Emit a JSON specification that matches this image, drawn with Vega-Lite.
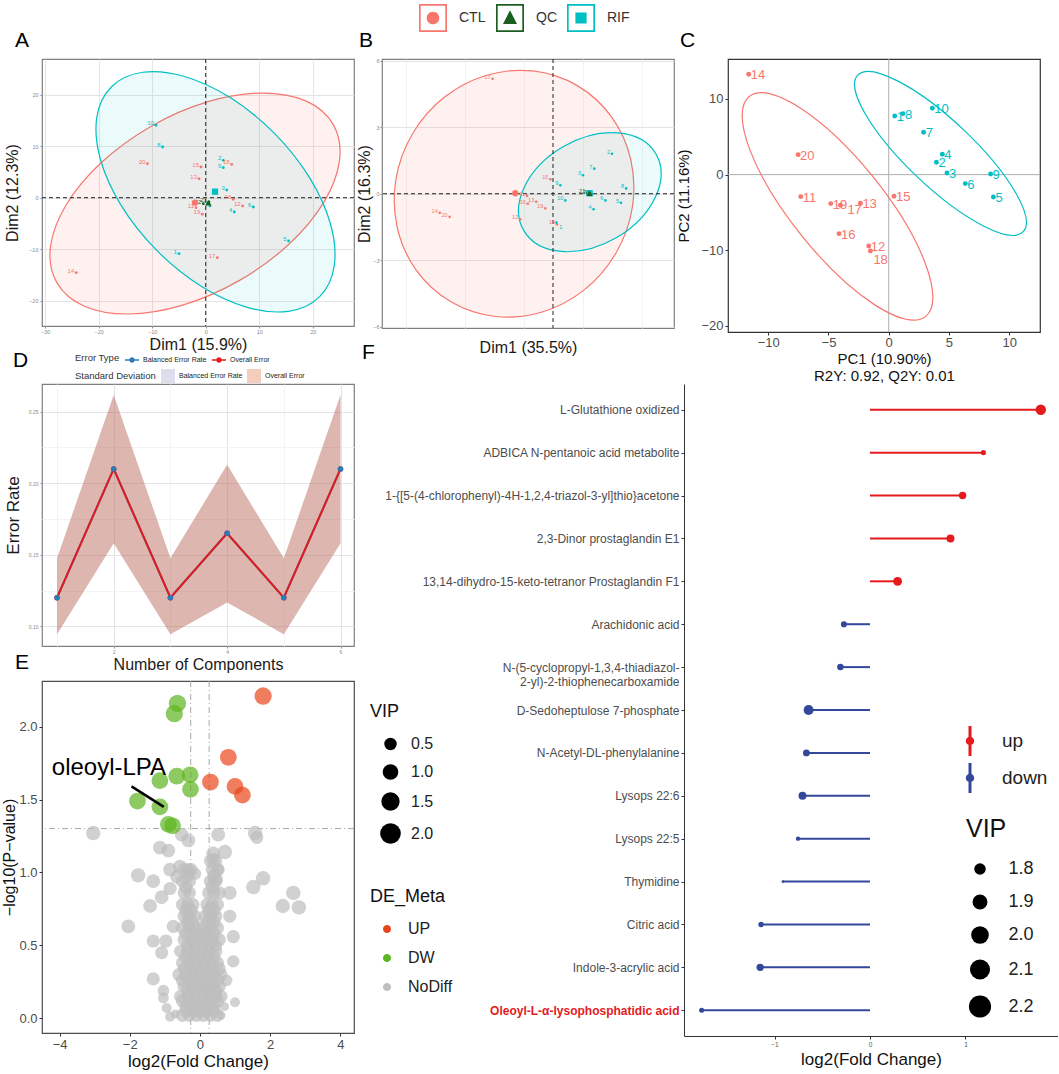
{
"$schema": "https://vega.github.io/schema/vega-lite/v6.json",
"background": "white",
"padding": {"left": 1, "top": 3, "right": 0, "bottom": 0},
"config": {
  "font": "Liberation Sans",
  "view": {"stroke": null},
  "axis": {"labelFont": "Liberation Sans", "titleFont": "Liberation Sans", "titleFontWeight": "normal", "grid": false},
  "legend": {"labelFont": "Liberation Sans", "titleFont": "Liberation Sans", "titleFontWeight": "normal", "padding": 0},
  "title": {"font": "Liberation Sans", "fontSize": 21, "fontWeight": "normal", "color": "#000", "anchor": "start", "frame": "group"},
  "text": {"font": "Liberation Sans"}
},
"spacing": -44,
"resolve": {"scale": {"color": "independent", "fill": "independent", "shape": "independent", "size": "independent"}, "legend": {"color": "independent", "fill": "independent", "shape": "independent", "size": "independent"}},
"vconcat": [
{
  "spacing": 0,
  "resolve": {"scale": {"color": "independent", "fill": "independent", "shape": "independent", "size": "independent"}, "legend": {"color": "independent", "fill": "independent", "shape": "independent", "size": "independent"}},
  "hconcat": [
  {
    "width": 312, "height": 267,
    "title": {"text": "A", "dx": -27, "offset": 8},
    "view": {"stroke": "#7f7f7f", "strokeWidth": 1.2},
    "layer": [
      {"data": {"values": [{"x": -2.0, "y": -1.13}]},
       "mark": {"type": "point", "shape": "M -1 0 C -1 -0.3082 -0.5523 -0.558 0 -0.558 C 0.5523 -0.558 1 -0.3082 1 0 C 1 0.3082 0.5523 0.558 0 0.558 C -0.5523 0.558 -1 0.3082 -1 0 Z", "size": 101400, "angle": -29.8, "filled": true, "fill": "#F8766D", "fillOpacity": 0.1, "stroke": "#F8766D", "strokeWidth": 1.2, "strokeOpacity": 1, "opacity": 1},
       "encoding": {
         "x": {"field": "x", "type": "quantitative", "scale": {"domain": [-30.6, 27.72], "nice": false, "zero": false},
               "axis": {"title": "Dim1 (15.9%)", "values": [-30,-25,-20,-15,-10,-5,0,5,10,15,20,25], "labelExpr": "datum.value % 10 !== 0 ? '' : datum.label", "grid": true, "gridColor": {"condition": {"test": "datum.value % 10 !== 0", "value": "#f3f3f3"}, "value": "#e4e4e4"}, "tickOpacity": {"condition": {"test": "datum.value % 10 !== 0", "value": 0}, "value": 1}, "tickColor": "#888", "tickSize": 2, "domain": false, "labelFontSize": 5.5, "labelColor": "#8a8a8a", "labelPadding": 1, "titleFontSize": 16, "titleColor": "#1a1a1a", "titlePadding": 2}},
         "y": {"field": "y", "type": "quantitative", "scale": {"domain": [-24.91, 26.93], "nice": false, "zero": false},
               "axis": {"title": "Dim2 (12.3%)", "values": [-25,-20,-15,-10,-5,0,5,10,15,20,25], "labelExpr": "datum.value % 10 !== 0 ? '' : datum.label", "grid": true, "gridColor": {"condition": {"test": "datum.value % 10 !== 0", "value": "#f3f3f3"}, "value": "#e4e4e4"}, "tickOpacity": {"condition": {"test": "datum.value % 10 !== 0", "value": 0}, "value": 1}, "tickColor": "#888", "tickSize": 2, "domain": false, "labelFontSize": 5.5, "labelColor": "#8a8a8a", "labelPadding": 2, "titleFontSize": 16, "titleColor": "#1a1a1a", "titlePadding": 8}}
       }},
      {"data": {"values": [{"x": 1.83, "y": 1.15}]},
       "mark": {"type": "point", "shape": "M -1 0 C -1 -0.3102 -0.5523 -0.5616 0 -0.5616 C 0.5523 -0.5616 1 -0.3102 1 0 C 1 0.3102 0.5523 0.5616 0 0.5616 C -0.5523 0.5616 -1 0.3102 -1 0 Z", "size": 87380, "angle": 45.3, "filled": true, "fill": "#00BFC4", "fillOpacity": 0.08, "stroke": "#00BFC4", "strokeWidth": 1.2, "strokeOpacity": 1, "opacity": 1},
       "encoding": {
         "x": {"field": "x", "type": "quantitative", "scale": {"domain": [-30.6, 27.72], "nice": false, "zero": false}},
         "y": {"field": "y", "type": "quantitative", "scale": {"domain": [-24.91, 26.93], "nice": false, "zero": false}}
       }},
      {"data": {"values": [{"x": 0}]},
       "mark": {"type": "rule", "strokeDash": [4, 3], "color": "#222", "strokeWidth": 1},
       "encoding": {"x": {"field": "x", "type": "quantitative", "scale": {"domain": [-30.6, 27.72], "nice": false, "zero": false}}}},
      {"data": {"values": [{"y": 0}]},
       "mark": {"type": "rule", "strokeDash": [4, 3], "color": "#222", "strokeWidth": 1},
       "encoding": {"y": {"field": "y", "type": "quantitative", "scale": {"domain": [-24.91, 26.93], "nice": false, "zero": false}}}},
      {"data": {"values": [
        {"g":"CTL","id":11,"x":-1.81,"y":-1.94},{"g":"CTL","id":12,"x":6.9,"y":-1.6},{"g":"CTL","id":13,"x":-1.25,"y":3.7},{"g":"CTL","id":14,"x":-24.2,"y":-14.56},{"g":"CTL","id":15,"x":-0.88,"y":5.96},{"g":"CTL","id":16,"x":5.16,"y":-0.3},{"g":"CTL","id":17,"x":2.17,"y":-11.65},{"g":"CTL","id":18,"x":4.86,"y":6.48},{"g":"CTL","id":19,"x":-0.64,"y":-3.2},{"g":"CTL","id":20,"x":-10.9,"y":6.6},
        {"g":"RIF","id":1,"x":-4.99,"y":-10.87},{"g":"RIF","id":2,"x":3.29,"y":7.26},{"g":"RIF","id":3,"x":3.93,"y":1.5},{"g":"RIF","id":4,"x":5.35,"y":-2.78},{"g":"RIF","id":5,"x":15.5,"y":-8.41},{"g":"RIF","id":6,"x":8.9,"y":-1.8},{"g":"RIF","id":7,"x":0.8,"y":-1.6},{"g":"RIF","id":8,"x":-8.04,"y":9.84},{"g":"RIF","id":9,"x":3.29,"y":5.83},{"g":"RIF","id":10,"x":-9.29,"y":14.06},
        {"g":"QC","id":21,"x":0.6,"y":-0.8},{"g":"QC","id":22,"x":-0.45,"y":-1.16}]},
       "layer": [
         {"mark": {"type": "point", "filled": true, "size": 8, "opacity": 1},
          "encoding": {
            "x": {"field": "x", "type": "quantitative", "scale": {"domain": [-30.6, 27.72], "nice": false, "zero": false}},
            "y": {"field": "y", "type": "quantitative", "scale": {"domain": [-24.91, 26.93], "nice": false, "zero": false}},
            "color": {"field": "g", "type": "nominal", "scale": {"domain": ["CTL","QC","RIF"], "range": ["#F8766D","#1B5E20","#00BFC4"]}, "legend": null}}},
         {"mark": {"type": "text", "fontSize": 6, "align": "right", "dx": -2, "dy": -2},
          "encoding": {
            "x": {"field": "x", "type": "quantitative", "scale": {"domain": [-30.6, 27.72], "nice": false, "zero": false}},
            "y": {"field": "y", "type": "quantitative", "scale": {"domain": [-24.91, 26.93], "nice": false, "zero": false}},
            "text": {"field": "id"},
            "color": {"field": "g", "type": "nominal", "scale": {"domain": ["CTL","QC","RIF"], "range": ["#F8766D","#1B5E20","#00BFC4"]}, "legend": null}}}
       ]},
      {"data": {"values": [{"g":"CTL","x":-2.0,"y":-0.97},{"g":"RIF","x":1.74,"y":1.17},{"g":"QC","x":0.49,"y":-0.97}]},
       "mark": {"type": "point", "filled": true, "size": 40, "opacity": 1},
       "encoding": {
         "x": {"field": "x", "type": "quantitative", "scale": {"domain": [-30.6, 27.72], "nice": false, "zero": false}},
         "y": {"field": "y", "type": "quantitative", "scale": {"domain": [-24.91, 26.93], "nice": false, "zero": false}},
         "color": {"field": "g", "type": "nominal", "scale": {"domain": ["CTL","QC","RIF"], "range": ["#F8766D","#1B5E20","#00BFC4"]}, "legend": null},
         "shape": {"field": "g", "type": "nominal", "scale": {"domain": ["CTL","QC","RIF"], "range": ["circle","triangle-up","square"]}, "legend": null}}}
    ]
  },
  {
    "width": 292, "height": 269,
    "title": {"text": "B", "dx": -23, "offset": -47},
    "view": {"stroke": "#7f7f7f", "strokeWidth": 1.2},
    "layer": [
      {"data": {"values": [{"g":"CTL","x":0,"y":0},{"g":"QC","x":0,"y":0},{"g":"RIF","x":0,"y":0}]},
       "mark": {"type": "point", "filled": true, "opacity": 0, "size": 10},
       "encoding": {
         "x": {"field": "x", "type": "quantitative", "scale": {"domain": [-7.246, 5.127], "nice": false, "zero": false},
               "axis": {"title": "Dim1 (35.5%)", "values": [-6.25,-5,-3.75,-2.5,-1.25,0,1.25,2.5,3.75,5], "format": ".1f", "labelExpr": "indexof([-6.25,-3.75,-1.25,1.25,3.75], datum.value) >= 0 ? '' : datum.label", "grid": true, "gridColor": {"condition": {"test": "indexof([-6.25,-3.75,-1.25,1.25,3.75], datum.value) >= 0", "value": "#f3f3f3"}, "value": "#e4e4e4"}, "tickOpacity": {"condition": {"test": "indexof([-6.25,-3.75,-1.25,1.25,3.75], datum.value) >= 0", "value": 0}, "value": 1}, "tickColor": "#888", "tickSize": 2, "domain": false, "labelFontSize": 5.5, "labelColor": "#8a8a8a", "labelPadding": 1, "titleFontSize": 16, "titleColor": "#1a1a1a", "titlePadding": 3}},
         "y": {"field": "y", "type": "quantitative", "scale": {"domain": [-6.05, 6.07], "nice": false, "zero": false},
               "axis": {"title": "Dim2 (16.3%)", "values": [-6,-4.5,-3,-1.5,0,1.5,3,4.5,6], "labelExpr": "indexof([-4.5,-1.5,1.5,4.5], datum.value) >= 0 ? '' : datum.label", "grid": true, "gridColor": {"condition": {"test": "indexof([-4.5,-1.5,1.5,4.5], datum.value) >= 0", "value": "#f3f3f3"}, "value": "#e4e4e4"}, "tickOpacity": {"condition": {"test": "indexof([-4.5,-1.5,1.5,4.5], datum.value) >= 0", "value": 0}, "value": 1}, "tickColor": "#888", "tickSize": 2, "domain": false, "labelFontSize": 5.5, "labelColor": "#8a8a8a", "labelPadding": 1, "titleFontSize": 16, "titleColor": "#1a1a1a", "titlePadding": 0}},
         "color": {"field": "g", "type": "nominal", "scale": {"domain": ["CTL","QC","RIF"], "range": ["#F8766D","#1B5E20","#00BFC4"]},
                   "legend": {"title": null, "orient": "none", "legendX": 37, "legendY": -55, "direction": "horizontal", "symbolSize": 784, "symbolOpacity": 1, "symbolStrokeWidth": 0, "labelFontSize": 14, "labelColor": "#333", "labelOffset": 12, "columnPadding": 10}},
         "shape": {"field": "g", "type": "nominal", "scale": {"domain": ["CTL","QC","RIF"], "range": [
             "M -1 -1 L 1 -1 L 1 1 L -1 1 Z M -0.88 -0.88 L -0.88 0.88 L 0.88 0.88 L 0.88 -0.88 Z M 0.45 0 C 0.45 0.2485 0.2485 0.45 0 0.45 C -0.2485 0.45 -0.45 0.2485 -0.45 0 C -0.45 -0.2485 -0.2485 -0.45 0 -0.45 C 0.2485 -0.45 0.45 -0.2485 0.45 0 Z",
             "M -1 -1 L 1 -1 L 1 1 L -1 1 Z M -0.88 -0.88 L -0.88 0.88 L 0.88 0.88 L 0.88 -0.88 Z M 0 -0.55 L 0.5 0.42 L -0.5 0.42 Z",
             "M -1 -1 L 1 -1 L 1 1 L -1 1 Z M -0.88 -0.88 L -0.88 0.88 L 0.88 0.88 L 0.88 -0.88 Z M -0.4 -0.4 L 0.4 -0.4 L 0.4 0.4 L -0.4 0.4 Z"]},
                   "legend": {"title": null, "orient": "none", "legendX": 37, "legendY": -55, "direction": "horizontal", "symbolSize": 784, "symbolOpacity": 1, "symbolStrokeWidth": 0, "labelFontSize": 14, "labelColor": "#333", "labelOffset": 12, "columnPadding": 10}}
       }},
      {"data": {"values": [{"x": -1.65, "y": 0.0}]},
       "mark": {"type": "point", "shape": "M -1 0 C -1 -0.5203 -0.5523 -0.942 0 -0.942 C 0.5523 -0.942 1 -0.5203 1 0 C 1 0.5203 0.5523 0.942 0 0.942 C -0.5523 0.942 -1 0.5203 -1 0 Z", "size": 62700, "angle": -59.7, "filled": true, "fill": "#F8766D", "fillOpacity": 0.1, "stroke": "#F8766D", "strokeWidth": 1.2, "strokeOpacity": 1, "opacity": 1},
       "encoding": {
         "x": {"field": "x", "type": "quantitative", "scale": {"domain": [-7.246, 5.127], "nice": false, "zero": false}},
         "y": {"field": "y", "type": "quantitative", "scale": {"domain": [-6.05, 6.07], "nice": false, "zero": false}}}},
      {"data": {"values": [{"x": 1.56, "y": 0.07}]},
       "mark": {"type": "point", "shape": "M -1 0 C -1 -0.3811 -0.5523 -0.69 0 -0.69 C 0.5523 -0.69 1 -0.3811 1 0 C 1 0.3811 0.5523 0.69 0 0.69 C -0.5523 0.69 -1 0.3811 -1 0 Z", "size": 23348, "angle": -30, "filled": true, "fill": "#00BFC4", "fillOpacity": 0.08, "stroke": "#00BFC4", "strokeWidth": 1.2, "strokeOpacity": 1, "opacity": 1},
       "encoding": {
         "x": {"field": "x", "type": "quantitative", "scale": {"domain": [-7.246, 5.127], "nice": false, "zero": false}},
         "y": {"field": "y", "type": "quantitative", "scale": {"domain": [-6.05, 6.07], "nice": false, "zero": false}}}},
      {"data": {"values": [{"x": 0}]},
       "mark": {"type": "rule", "strokeDash": [4, 3], "color": "#222", "strokeWidth": 1},
       "encoding": {"x": {"field": "x", "type": "quantitative", "scale": {"domain": [-7.246, 5.127], "nice": false, "zero": false}}}},
      {"data": {"values": [{"y": 0}]},
       "mark": {"type": "rule", "strokeDash": [4, 3], "color": "#222", "strokeWidth": 1},
       "encoding": {"y": {"field": "y", "type": "quantitative", "scale": {"domain": [-6.05, 6.07], "nice": false, "zero": false}}}},
      {"data": {"values": [
        {"g":"CTL","id":17,"x":-2.56,"y":5.18},{"g":"CTL","id":14,"x":-4.8,"y":-0.86},{"g":"CTL","id":20,"x":-4.38,"y":-1.04},{"g":"CTL","id":15,"x":-0.11,"y":0.65},{"g":"CTL","id":13,"x":-0.71,"y":-0.36},{"g":"CTL","id":19,"x":-0.33,"y":-0.66},{"g":"CTL","id":18,"x":0.17,"y":-1.38},{"g":"CTL","id":11,"x":-1.1,"y":-0.1},{"g":"CTL","id":12,"x":-1.39,"y":-1.15},{"g":"CTL","id":16,"x":-1.07,"y":-0.45},
        {"g":"RIF","id":1,"x":0.14,"y":-1.3},{"g":"RIF","id":2,"x":2.5,"y":1.8},{"g":"RIF","id":3,"x":1.27,"y":0.83},{"g":"RIF","id":4,"x":1.72,"y":-0.7},{"g":"RIF","id":5,"x":2.88,"y":-0.41},{"g":"RIF","id":6,"x":2.22,"y":-0.3},{"g":"RIF","id":7,"x":1.75,"y":1.13},{"g":"RIF","id":8,"x":3.1,"y":0.24},{"g":"RIF","id":9,"x":0.31,"y":0.38},{"g":"RIF","id":10,"x":0.52,"y":-0.3},
        {"g":"QC","id":21,"x":1.45,"y":0.05},{"g":"QC","id":22,"x":1.62,"y":-0.02}]},
       "layer": [
         {"mark": {"type": "point", "filled": true, "size": 7, "opacity": 1},
          "encoding": {
            "x": {"field": "x", "type": "quantitative", "scale": {"domain": [-7.246, 5.127], "nice": false, "zero": false}},
            "y": {"field": "y", "type": "quantitative", "scale": {"domain": [-6.05, 6.07], "nice": false, "zero": false}},
            "color": {"field": "g", "type": "nominal", "scale": {"domain": ["CTL","QC","RIF"], "range": ["#F8766D","#1B5E20","#00BFC4"]}, "legend": null}}},
         {"transform": [{"filter": "!(datum.g == 'RIF' && datum.id == 1)"}],
          "mark": {"type": "text", "fontSize": 5.5, "align": "right", "dx": -2, "dy": -2},
          "encoding": {
            "x": {"field": "x", "type": "quantitative", "scale": {"domain": [-7.246, 5.127], "nice": false, "zero": false}},
            "y": {"field": "y", "type": "quantitative", "scale": {"domain": [-6.05, 6.07], "nice": false, "zero": false}},
            "text": {"field": "id"},
            "color": {"field": "g", "type": "nominal", "scale": {"domain": ["CTL","QC","RIF"], "range": ["#F8766D","#1B5E20","#00BFC4"]}, "legend": null}}},
         {"transform": [{"filter": "datum.g == 'RIF' && datum.id == 1"}],
          "mark": {"type": "text", "fontSize": 5.5, "align": "left", "dx": 3, "dy": 4},
          "encoding": {
            "x": {"field": "x", "type": "quantitative", "scale": {"domain": [-7.246, 5.127], "nice": false, "zero": false}},
            "y": {"field": "y", "type": "quantitative", "scale": {"domain": [-6.05, 6.07], "nice": false, "zero": false}},
            "text": {"field": "id"},
            "color": {"field": "g", "type": "nominal", "scale": {"domain": ["CTL","QC","RIF"], "range": ["#F8766D","#1B5E20","#00BFC4"]}, "legend": null}}}
       ]},
      {"data": {"values": [{"g":"CTL","x":-1.6,"y":0.02}]},
       "mark": {"type": "point", "filled": true, "size": 40, "opacity": 1, "shape": "circle", "color": "#F8766D"},
       "encoding": {
         "x": {"field": "x", "type": "quantitative", "scale": {"domain": [-7.246, 5.127], "nice": false, "zero": false}},
         "y": {"field": "y", "type": "quantitative", "scale": {"domain": [-6.05, 6.07], "nice": false, "zero": false}}}},
      {"data": {"values": [{"g":"RIF","x":1.55,"y":0.02}]},
       "mark": {"type": "point", "filled": true, "size": 40, "opacity": 1, "shape": "square", "color": "#00BFC4"},
       "encoding": {
         "x": {"field": "x", "type": "quantitative", "scale": {"domain": [-7.246, 5.127], "nice": false, "zero": false}},
         "y": {"field": "y", "type": "quantitative", "scale": {"domain": [-6.05, 6.07], "nice": false, "zero": false}}}},
      {"data": {"values": [{"g":"QC","x":1.55,"y":0.02}]},
       "mark": {"type": "point", "filled": true, "size": 40, "opacity": 1, "shape": "triangle-up", "color": "#1B5E20"},
       "encoding": {
         "x": {"field": "x", "type": "quantitative", "scale": {"domain": [-7.246, 5.127], "nice": false, "zero": false}},
         "y": {"field": "y", "type": "quantitative", "scale": {"domain": [-6.05, 6.07], "nice": false, "zero": false}}}}
    ]
  },
  {
    "width": 312, "height": 273,
    "title": {"text": "C", "dx": -48, "offset": 8},
    "view": {"stroke": "#333", "strokeWidth": 1.2},
    "layer": [
      {"data": {"values": [{"x": 0}]},
       "mark": {"type": "rule", "color": "#b0b0b0", "strokeWidth": 1},
       "encoding": {"x": {"field": "x", "type": "quantitative", "scale": {"domain": [-13.34, 12.56], "nice": false, "zero": false},
          "axis": {"title": ["PC1 (10.90%)", "R2Y: 0.92, Q2Y: 0.01"], "values": [-10,-5,0,5,10], "labelFontSize": 13, "labelColor": "#4d4d4d", "tickColor": "#333", "tickSize": 3, "domain": false, "titleFontSize": 15, "titleColor": "#111", "titlePadding": 2, "labelPadding": 1}}}},
      {"data": {"values": [{"y": 0}]},
       "mark": {"type": "rule", "color": "#b0b0b0", "strokeWidth": 1},
       "encoding": {"y": {"field": "y", "type": "quantitative", "scale": {"domain": [-20.8, 15.28], "nice": false, "zero": false},
          "axis": {"title": "PC2 (11.16%)", "values": [-20,-10,0,10], "labelFontSize": 13, "labelColor": "#4d4d4d", "tickColor": "#333", "tickSize": 3, "domain": false, "titleFontSize": 15, "titleColor": "#111", "titlePadding": 9, "labelPadding": 2}}}},
      {"data": {"values": [{"x": -4.25, "y": -4.2}]},
       "mark": {"type": "point", "shape": "M -1 0 C -1 -0.1812 -0.5523 -0.328 0 -0.328 C 0.5523 -0.328 1 -0.1812 1 0 C 1 0.1812 0.5523 0.328 0 0.328 C -0.5523 0.328 -1 0.1812 -1 0 Z", "size": 79524, "angle": 51.25, "filled": false, "color": "#F8766D", "strokeWidth": 1.2, "opacity": 1},
       "encoding": {
         "x": {"field": "x", "type": "quantitative", "scale": {"domain": [-13.34, 12.56], "nice": false, "zero": false}},
         "y": {"field": "y", "type": "quantitative", "scale": {"domain": [-20.8, 15.28], "nice": false, "zero": false}}}},
      {"data": {"values": [{"x": 4.30, "y": 2.80}]},
       "mark": {"type": "point", "shape": "M -1 0 C -1 -0.1602 -0.5523 -0.29 0 -0.29 C 0.5523 -0.29 1 -0.1602 1 0 C 1 0.1602 0.5523 0.29 0 0.29 C -0.5523 0.29 -1 0.1602 -1 0 Z", "size": 51893, "angle": 43.4, "filled": false, "color": "#00BFC4", "strokeWidth": 1.2, "opacity": 1},
       "encoding": {
         "x": {"field": "x", "type": "quantitative", "scale": {"domain": [-13.34, 12.56], "nice": false, "zero": false}},
         "y": {"field": "y", "type": "quantitative", "scale": {"domain": [-20.8, 15.28], "nice": false, "zero": false}}}},
      {"data": {"values": [
        {"g":"CTL","id":14,"x":-11.62,"y":13.26},{"g":"CTL","id":20,"x":-7.52,"y":2.64},{"g":"CTL","id":11,"x":-7.30,"y":-2.91},{"g":"CTL","id":19,"x":-4.81,"y":-3.83},{"g":"CTL","id":17,"x":-4.01,"y":-4.05},{"g":"CTL","id":13,"x":-2.35,"y":-3.79},{"g":"CTL","id":15,"x":0.44,"y":-2.86},{"g":"CTL","id":16,"x":-4.12,"y":-7.80},{"g":"CTL","id":12,"x":-1.66,"y":-9.43},{"g":"CTL","id":18,"x":-1.52,"y":-10.09},
        {"g":"RIF","id":1,"x":0.5,"y":7.75},{"g":"RIF","id":8,"x":1.19,"y":8.06},{"g":"RIF","id":10,"x":3.62,"y":8.77},{"g":"RIF","id":7,"x":2.90,"y":5.59},{"g":"RIF","id":4,"x":4.45,"y":2.69},{"g":"RIF","id":2,"x":3.96,"y":1.63},{"g":"RIF","id":3,"x":4.84,"y":0.22},{"g":"RIF","id":6,"x":6.36,"y":-1.19},{"g":"RIF","id":9,"x":8.46,"y":0.09},{"g":"RIF","id":5,"x":8.69,"y":-2.95}]},
       "layer": [
         {"mark": {"type": "point", "filled": true, "size": 24, "opacity": 1},
          "encoding": {
            "x": {"field": "x", "type": "quantitative", "scale": {"domain": [-13.34, 12.56], "nice": false, "zero": false}},
            "y": {"field": "y", "type": "quantitative", "scale": {"domain": [-20.8, 15.28], "nice": false, "zero": false}},
            "color": {"field": "g", "type": "nominal", "scale": {"domain": ["CTL","RIF"], "range": ["#F8766D","#00BFC4"]}, "legend": null}}},
         {"transform": [{"filter": "!(datum.g == 'CTL' && (datum.id == 17 || datum.id == 18))"}],
          "mark": {"type": "text", "fontSize": 13, "align": "left", "baseline": "middle", "dx": 2, "dy": 1},
          "encoding": {
            "x": {"field": "x", "type": "quantitative", "scale": {"domain": [-13.34, 12.56], "nice": false, "zero": false}},
            "y": {"field": "y", "type": "quantitative", "scale": {"domain": [-20.8, 15.28], "nice": false, "zero": false}},
            "text": {"field": "id"},
            "color": {"field": "g", "type": "nominal", "scale": {"domain": ["CTL","RIF"], "range": ["#F8766D","#00BFC4"]}, "legend": null}}},
         {"transform": [{"filter": "datum.g == 'CTL' && datum.id == 17"}],
          "mark": {"type": "text", "fontSize": 13, "align": "left", "baseline": "middle", "dx": 7, "dy": 5},
          "encoding": {
            "x": {"field": "x", "type": "quantitative", "scale": {"domain": [-13.34, 12.56], "nice": false, "zero": false}},
            "y": {"field": "y", "type": "quantitative", "scale": {"domain": [-20.8, 15.28], "nice": false, "zero": false}},
            "text": {"field": "id"},
            "color": {"field": "g", "type": "nominal", "scale": {"domain": ["CTL","RIF"], "range": ["#F8766D","#00BFC4"]}, "legend": null}}},
         {"transform": [{"filter": "datum.g == 'CTL' && datum.id == 18"}],
          "mark": {"type": "text", "fontSize": 13, "align": "left", "baseline": "middle", "dx": 3, "dy": 9},
          "encoding": {
            "x": {"field": "x", "type": "quantitative", "scale": {"domain": [-13.34, 12.56], "nice": false, "zero": false}},
            "y": {"field": "y", "type": "quantitative", "scale": {"domain": [-20.8, 15.28], "nice": false, "zero": false}},
            "text": {"field": "id"},
            "color": {"field": "g", "type": "nominal", "scale": {"domain": ["CTL","RIF"], "range": ["#F8766D","#00BFC4"]}, "legend": null}}}
       ]}
    ]
  }
  ]
},
{
  "spacing": -92,
  "resolve": {"scale": {"color": "independent", "fill": "independent", "shape": "independent", "size": "independent"}, "legend": {"color": "independent", "fill": "independent", "shape": "independent", "size": "independent"}},
  "hconcat": [
  {
    "spacing": -23,
    "resolve": {"scale": {"color": "independent", "fill": "independent", "shape": "independent", "size": "independent"}, "legend": {"color": "independent", "fill": "independent", "shape": "independent", "size": "independent"}},
    "vconcat": [
    {
      "width": 312, "height": 262,
      "title": {"text": "D", "dx": -29, "offset": -18},
      "view": {"stroke": "#7f7f7f", "strokeWidth": 1.2},
      "data": {"values": [
        {"type":"Balanced Error Rate","comp":1,"err":0.12,"lo":0.0945,"hi":0.1475},
        {"type":"Balanced Error Rate","comp":2,"err":0.21,"lo":0.158,"hi":0.2617},
        {"type":"Balanced Error Rate","comp":3,"err":0.12,"lo":0.0945,"hi":0.1475},
        {"type":"Balanced Error Rate","comp":4,"err":0.165,"lo":0.1167,"hi":0.213},
        {"type":"Balanced Error Rate","comp":5,"err":0.12,"lo":0.0945,"hi":0.1475},
        {"type":"Balanced Error Rate","comp":6,"err":0.21,"lo":0.158,"hi":0.2617},
        {"type":"Overall Error","comp":1,"err":0.12,"lo":0.0945,"hi":0.1475},
        {"type":"Overall Error","comp":2,"err":0.21,"lo":0.158,"hi":0.2617},
        {"type":"Overall Error","comp":3,"err":0.12,"lo":0.0945,"hi":0.1475},
        {"type":"Overall Error","comp":4,"err":0.165,"lo":0.1167,"hi":0.213},
        {"type":"Overall Error","comp":5,"err":0.12,"lo":0.0945,"hi":0.1475},
        {"type":"Overall Error","comp":6,"err":0.21,"lo":0.158,"hi":0.2617}]},
      "layer": [
        {"mark": {"type": "point", "filled": true, "size": 30, "opacity": 0},
         "encoding": {
           "x": {"field": "comp", "type": "quantitative", "scale": {"domain": [0.735, 6.238], "nice": false, "zero": false}},
           "y": {"field": "err", "type": "quantitative", "scale": {"domain": [0.0862, 0.2694], "nice": false, "zero": false}},
           "color": {"field": "type", "type": "nominal", "scale": {"domain": ["Balanced Error Rate", "Overall Error"], "range": ["#2B7BBA", "#E3191C"]},
                     "legend": {"title": "Error Type", "orient": "none", "legendX": 33, "legendY": -31, "direction": "horizontal", "titleOrient": "left", "titleFontSize": 9.5, "titleColor": "#333", "titlePadding": 5, "labelFontSize": 7, "labelColor": "#222", "symbolType": "M -1 -0.1 L 1 -0.1 L 1 0.1 L -1 0.1 Z M 0.38 0 C 0.38 0.21 0.21 0.38 0 0.38 C -0.21 0.38 -0.38 0.21 -0.38 0 C -0.38 -0.21 -0.21 -0.38 0 -0.38 C 0.21 -0.38 0.38 -0.21 0.38 0 Z", "symbolSize": 196, "symbolOpacity": 1, "symbolStrokeWidth": 0, "labelOffset": 4, "columnPadding": 5}}}},
        {"mark": {"type": "area", "opacity": 0.3},
         "encoding": {
           "x": {"field": "comp", "type": "quantitative", "scale": {"domain": [0.735, 6.238], "nice": false, "zero": false},
                 "axis": {"title": "Number of Components", "values": [1,2,3,4,5,6], "format": "d", "labelExpr": "datum.value % 2 === 0 ? datum.label : ''", "grid": true, "gridColor": {"condition": {"test": "datum.value % 2 !== 0", "value": "#f3f3f3"}, "value": "#e4e4e4"}, "tickOpacity": {"condition": {"test": "datum.value % 2 !== 0", "value": 0}, "value": 1}, "tickColor": "#888", "tickSize": 2, "domain": false, "labelFontSize": 5, "labelColor": "#8a8a8a", "labelPadding": 1, "titleFontSize": 16, "titleColor": "#1a1a1a", "titlePadding": 2}},
           "y": {"field": "lo", "type": "quantitative", "scale": {"domain": [0.0862, 0.2694], "nice": false, "zero": false},
                 "axis": {"title": "Error Rate", "values": [0.1,0.125,0.15,0.175,0.2,0.225,0.25], "format": ".2f", "labelExpr": "indexof([0.125,0.175,0.225], datum.value) >= 0 ? '' : datum.label", "grid": true, "gridColor": {"condition": {"test": "indexof([0.125,0.175,0.225], datum.value) >= 0", "value": "#f3f3f3"}, "value": "#e4e4e4"}, "tickOpacity": {"condition": {"test": "indexof([0.125,0.175,0.225], datum.value) >= 0", "value": 0}, "value": 1}, "tickColor": "#888", "tickSize": 2, "domain": false, "labelFontSize": 5, "labelColor": "#8a8a8a", "labelPadding": 2, "titleFontSize": 17, "titleColor": "#1a1a1a", "titlePadding": 6}},
           "y2": {"field": "hi"},
           "fill": {"field": "type", "type": "nominal", "scale": {"domain": ["Overall Error", "Balanced Error Rate"], "range": ["#DE5826", "#8A91BC"]},
                    "legend": {"title": "Standard Deviation", "values": ["Balanced Error Rate", "Overall Error"], "orient": "none", "legendX": 33, "legendY": -15, "direction": "horizontal", "titleOrient": "left", "titleFontSize": 9.5, "titleColor": "#333", "titlePadding": 5, "labelFontSize": 7, "labelColor": "#222", "symbolType": "square", "symbolSize": 196, "symbolStrokeWidth": 0, "labelOffset": 4, "columnPadding": 4}}}},
        {"mark": {"type": "line", "strokeWidth": 2},
         "encoding": {
           "x": {"field": "comp", "type": "quantitative", "scale": {"domain": [0.735, 6.238], "nice": false, "zero": false}},
           "y": {"field": "err", "type": "quantitative", "scale": {"domain": [0.0862, 0.2694], "nice": false, "zero": false}},
           "color": {"field": "type", "type": "nominal", "scale": {"domain": ["Balanced Error Rate", "Overall Error"], "range": ["#2B7BBA", "#E3191C"]}, "legend": null}}},
        {"mark": {"type": "point", "filled": true, "size": 30, "opacity": 1},
         "encoding": {
           "x": {"field": "comp", "type": "quantitative", "scale": {"domain": [0.735, 6.238], "nice": false, "zero": false}},
           "y": {"field": "err", "type": "quantitative", "scale": {"domain": [0.0862, 0.2694], "nice": false, "zero": false}},
           "order": {"field": "type", "sort": "descending"},
           "color": {"field": "type", "type": "nominal", "scale": {"domain": ["Balanced Error Rate", "Overall Error"], "range": ["#2B7BBA", "#E3191C"]}, "legend": null}}}
      ]
    },
    {
      "width": 312, "height": 352,
      "title": {"text": "E", "dx": -27, "offset": 8},
      "view": {"stroke": "#4d4d4d", "strokeWidth": 1.2},
      "layer": [
        {"data": {"values": [{"v": -0.263}, {"v": 0.263}]},
         "mark": {"type": "rule", "strokeDash": [6, 3, 1, 3], "color": "#a8a8a8", "strokeWidth": 1},
         "encoding": {"x": {"field": "v", "type": "quantitative", "scale": {"domain": [-4.5, 4.39], "nice": false, "zero": false},
            "axis": {"title": "log2(Fold Change)", "values": [-4,-2,0,2,4], "labelFontSize": 13, "labelColor": "#4d4d4d", "tickColor": "#333", "tickSize": 3, "domain": false, "titleFontSize": 17, "titleColor": "#111", "titlePadding": 2, "labelPadding": 2}}}},
        {"data": {"values": [{"v": 1.301}]},
         "mark": {"type": "rule", "strokeDash": [6, 3, 1, 3], "color": "#a8a8a8", "strokeWidth": 1},
         "encoding": {"y": {"field": "v", "type": "quantitative", "scale": {"domain": [-0.101, 2.313], "nice": false, "zero": false},
            "axis": {"title": "−log10(P−value)", "values": [0,0.5,1,1.5,2], "format": ".1f", "labelFontSize": 13, "labelColor": "#4d4d4d", "tickColor": "#333", "tickSize": 3, "domain": false, "titleFontSize": 16, "titleColor": "#111", "titlePadding": 1, "labelPadding": 2}}}},
        {"data": {"values": [
          {"x":-3.04,"y":1.27,"v":0.8,"g":"NoDiff"},{"x":-0.52,"y":1.26,"v":0.7,"g":"NoDiff"},{"x":-0.33,"y":1.22,"v":0.7,"g":"NoDiff"},{"x":0.52,"y":1.26,"v":0.7,"g":"NoDiff"},{"x":1.57,"y":1.27,"v":0.8,"g":"NoDiff"},{"x":1.62,"y":1.24,"v":0.6,"g":"NoDiff"},
          {"x":-1.14,"y":1.17,"v":0.7,"g":"NoDiff"},{"x":-0.9,"y":1.15,"v":0.7,"g":"NoDiff"},{"x":0.38,"y":1.13,"v":0.7,"g":"NoDiff"},{"x":0.71,"y":1.14,"v":0.8,"g":"NoDiff"},{"x":-1.76,"y":0.98,"v":0.8,"g":"NoDiff"},{"x":-1.33,"y":0.94,"v":0.7,"g":"NoDiff"},
          {"x":-0.85,"y":1.02,"v":0.7,"g":"NoDiff"},{"x":-0.57,"y":1.04,"v":0.7,"g":"NoDiff"},{"x":-0.33,"y":1.02,"v":0.6,"g":"NoDiff"},{"x":-0.66,"y":0.97,"v":0.6,"g":"NoDiff"},{"x":-0.14,"y":0.99,"v":0.5,"g":"NoDiff"},{"x":0.38,"y":1.09,"v":0.6,"g":"NoDiff"},
          {"x":0.52,"y":1.02,"v":0.6,"g":"NoDiff"},{"x":0.47,"y":0.95,"v":0.6,"g":"NoDiff"},{"x":1.52,"y":0.9,"v":0.8,"g":"NoDiff"},{"x":1.8,"y":0.96,"v":0.8,"g":"NoDiff"},{"x":2.66,"y":0.86,"v":0.8,"g":"NoDiff"},{"x":2.36,"y":0.77,"v":0.8,"g":"NoDiff"},
          {"x":2.82,"y":0.76,"v":0.8,"g":"NoDiff"},{"x":-1.42,"y":0.77,"v":0.7,"g":"NoDiff"},{"x":-1.09,"y":0.83,"v":0.7,"g":"NoDiff"},{"x":-0.85,"y":0.89,"v":0.6,"g":"NoDiff"},{"x":-2.04,"y":0.63,"v":0.7,"g":"NoDiff"},{"x":0.85,"y":0.86,"v":0.7,"g":"NoDiff"},
          {"x":0.85,"y":0.7,"v":0.6,"g":"NoDiff"},{"x":-0.76,"y":0.63,"v":0.6,"g":"NoDiff"},{"x":-0.97,"y":0.53,"v":0.6,"g":"NoDiff"},{"x":-1.33,"y":0.53,"v":0.6,"g":"NoDiff"},{"x":-1.09,"y":0.45,"v":0.6,"g":"NoDiff"},{"x":0.95,"y":0.56,"v":0.6,"g":"NoDiff"},
          {"x":0.95,"y":0.39,"v":0.5,"g":"NoDiff"},{"x":-1.33,"y":0.27,"v":0.6,"g":"NoDiff"},{"x":-1.04,"y":0.19,"v":0.4,"g":"NoDiff"},{"x":-1.04,"y":0.14,"v":0.3,"g":"NoDiff"},{"x":-0.95,"y":0.07,"v":0.2,"g":"NoDiff"},{"x":-0.85,"y":0.01,"v":0.2,"g":"NoDiff"},
          {"x":1.0,"y":0.11,"v":0.2,"g":"NoDiff"},{"x":0.76,"y":0.26,"v":0.4,"g":"NoDiff"},{"x":0.7,"y":0.08,"v":0.1,"g":"NoDiff"},{"x":0.6,"y":0.02,"v":0.1,"g":"NoDiff"},{"x":-0.7,"y":0.03,"v":0.1,"g":"NoDiff"},
          {"x":-0.5,"y":0.02,"v":0.6,"g":"NoDiff"},{"x":-0.3,"y":0.02,"v":0.6,"g":"NoDiff"},{"x":-0.1,"y":0.02,"v":0.6,"g":"NoDiff"},{"x":0.1,"y":0.02,"v":0.6,"g":"NoDiff"},{"x":0.3,"y":0.02,"v":0.6,"g":"NoDiff"},{"x":0.5,"y":0.02,"v":0.6,"g":"NoDiff"},
          {"x":-0.4,"y":0.08,"v":0.6,"g":"NoDiff"},{"x":-0.2,"y":0.08,"v":0.6,"g":"NoDiff"},{"x":0.0,"y":0.08,"v":0.6,"g":"NoDiff"},{"x":0.2,"y":0.08,"v":0.6,"g":"NoDiff"},{"x":0.4,"y":0.08,"v":0.6,"g":"NoDiff"},
          {"x":-0.55,"y":0.15,"v":0.6,"g":"NoDiff"},{"x":-0.35,"y":0.15,"v":0.6,"g":"NoDiff"},{"x":-0.15,"y":0.15,"v":0.6,"g":"NoDiff"},{"x":0.05,"y":0.15,"v":0.6,"g":"NoDiff"},{"x":0.25,"y":0.15,"v":0.6,"g":"NoDiff"},{"x":0.45,"y":0.15,"v":0.6,"g":"NoDiff"},{"x":0.6,"y":0.15,"v":0.6,"g":"NoDiff"},
          {"x":-0.45,"y":0.22,"v":0.6,"g":"NoDiff"},{"x":-0.25,"y":0.22,"v":0.6,"g":"NoDiff"},{"x":-0.05,"y":0.22,"v":0.6,"g":"NoDiff"},{"x":0.15,"y":0.22,"v":0.6,"g":"NoDiff"},{"x":0.35,"y":0.22,"v":0.6,"g":"NoDiff"},{"x":0.55,"y":0.22,"v":0.6,"g":"NoDiff"},
          {"x":-0.6,"y":0.3,"v":0.6,"g":"NoDiff"},{"x":-0.4,"y":0.3,"v":0.6,"g":"NoDiff"},{"x":-0.2,"y":0.3,"v":0.6,"g":"NoDiff"},{"x":0.0,"y":0.3,"v":0.6,"g":"NoDiff"},{"x":0.2,"y":0.3,"v":0.6,"g":"NoDiff"},{"x":0.4,"y":0.3,"v":0.6,"g":"NoDiff"},{"x":0.6,"y":0.3,"v":0.6,"g":"NoDiff"},
          {"x":-0.5,"y":0.38,"v":0.6,"g":"NoDiff"},{"x":-0.3,"y":0.38,"v":0.6,"g":"NoDiff"},{"x":-0.1,"y":0.38,"v":0.6,"g":"NoDiff"},{"x":0.1,"y":0.38,"v":0.6,"g":"NoDiff"},{"x":0.3,"y":0.38,"v":0.6,"g":"NoDiff"},{"x":0.5,"y":0.38,"v":0.6,"g":"NoDiff"},
          {"x":-0.55,"y":0.46,"v":0.6,"g":"NoDiff"},{"x":-0.35,"y":0.46,"v":0.6,"g":"NoDiff"},{"x":-0.15,"y":0.46,"v":0.6,"g":"NoDiff"},{"x":0.05,"y":0.46,"v":0.6,"g":"NoDiff"},{"x":0.25,"y":0.46,"v":0.6,"g":"NoDiff"},{"x":0.45,"y":0.46,"v":0.6,"g":"NoDiff"},
          {"x":-0.45,"y":0.54,"v":0.6,"g":"NoDiff"},{"x":-0.25,"y":0.54,"v":0.6,"g":"NoDiff"},{"x":-0.05,"y":0.54,"v":0.6,"g":"NoDiff"},{"x":0.15,"y":0.54,"v":0.6,"g":"NoDiff"},{"x":0.35,"y":0.54,"v":0.6,"g":"NoDiff"},{"x":0.55,"y":0.54,"v":0.6,"g":"NoDiff"},
          {"x":-0.5,"y":0.62,"v":0.6,"g":"NoDiff"},{"x":-0.3,"y":0.62,"v":0.6,"g":"NoDiff"},{"x":-0.1,"y":0.62,"v":0.6,"g":"NoDiff"},{"x":0.1,"y":0.62,"v":0.6,"g":"NoDiff"},{"x":0.3,"y":0.62,"v":0.6,"g":"NoDiff"},{"x":0.5,"y":0.62,"v":0.6,"g":"NoDiff"},
          {"x":-0.45,"y":0.7,"v":0.6,"g":"NoDiff"},{"x":-0.3,"y":0.7,"v":0.6,"g":"NoDiff"},{"x":-0.15,"y":0.7,"v":0.6,"g":"NoDiff"},{"x":0.15,"y":0.7,"v":0.6,"g":"NoDiff"},{"x":0.3,"y":0.7,"v":0.6,"g":"NoDiff"},{"x":0.45,"y":0.7,"v":0.6,"g":"NoDiff"},
          {"x":-0.5,"y":0.78,"v":0.6,"g":"NoDiff"},{"x":-0.35,"y":0.78,"v":0.6,"g":"NoDiff"},{"x":-0.2,"y":0.78,"v":0.6,"g":"NoDiff"},{"x":0.2,"y":0.78,"v":0.6,"g":"NoDiff"},{"x":0.35,"y":0.78,"v":0.6,"g":"NoDiff"},{"x":0.5,"y":0.78,"v":0.6,"g":"NoDiff"},
          {"x":-0.45,"y":0.86,"v":0.6,"g":"NoDiff"},{"x":-0.3,"y":0.86,"v":0.6,"g":"NoDiff"},{"x":0.25,"y":0.86,"v":0.6,"g":"NoDiff"},{"x":0.4,"y":0.86,"v":0.6,"g":"NoDiff"},{"x":0.55,"y":0.86,"v":0.6,"g":"NoDiff"},
          {"x":-0.5,"y":0.94,"v":0.6,"g":"NoDiff"},{"x":-0.3,"y":0.94,"v":0.6,"g":"NoDiff"},{"x":0.3,"y":0.94,"v":0.6,"g":"NoDiff"},{"x":0.45,"y":0.94,"v":0.6,"g":"NoDiff"},
          {"x":-0.45,"y":1.02,"v":0.6,"g":"NoDiff"},{"x":-0.25,"y":1.02,"v":0.6,"g":"NoDiff"},{"x":0.35,"y":1.02,"v":0.6,"g":"NoDiff"},{"x":0.5,"y":1.02,"v":0.6,"g":"NoDiff"},{"x":0.3,"y":1.08,"v":0.6,"g":"NoDiff"},{"x":0.45,"y":1.08,"v":0.6,"g":"NoDiff"},
          {"x":-0.4,"y":0.05,"v":0.6,"g":"NoDiff"},{"x":-0.2,"y":0.05,"v":0.6,"g":"NoDiff"},{"x":0.0,"y":0.05,"v":0.6,"g":"NoDiff"},{"x":0.2,"y":0.05,"v":0.6,"g":"NoDiff"},{"x":0.4,"y":0.05,"v":0.6,"g":"NoDiff"},
          {"x":-0.5,"y":0.12,"v":0.6,"g":"NoDiff"},{"x":-0.3,"y":0.12,"v":0.6,"g":"NoDiff"},{"x":-0.1,"y":0.12,"v":0.6,"g":"NoDiff"},{"x":0.1,"y":0.12,"v":0.6,"g":"NoDiff"},{"x":0.3,"y":0.12,"v":0.6,"g":"NoDiff"},{"x":0.5,"y":0.12,"v":0.6,"g":"NoDiff"},
          {"x":-0.35,"y":0.19,"v":0.6,"g":"NoDiff"},{"x":-0.15,"y":0.19,"v":0.6,"g":"NoDiff"},{"x":0.05,"y":0.19,"v":0.6,"g":"NoDiff"},{"x":0.25,"y":0.19,"v":0.6,"g":"NoDiff"},{"x":0.45,"y":0.19,"v":0.6,"g":"NoDiff"},
          {"x":-0.5,"y":0.26,"v":0.6,"g":"NoDiff"},{"x":-0.3,"y":0.26,"v":0.6,"g":"NoDiff"},{"x":-0.1,"y":0.26,"v":0.6,"g":"NoDiff"},{"x":0.1,"y":0.26,"v":0.6,"g":"NoDiff"},{"x":0.3,"y":0.26,"v":0.6,"g":"NoDiff"},{"x":0.5,"y":0.26,"v":0.6,"g":"NoDiff"},
          {"x":-0.45,"y":0.34,"v":0.6,"g":"NoDiff"},{"x":-0.25,"y":0.34,"v":0.6,"g":"NoDiff"},{"x":-0.05,"y":0.34,"v":0.6,"g":"NoDiff"},{"x":0.15,"y":0.34,"v":0.6,"g":"NoDiff"},{"x":0.35,"y":0.34,"v":0.6,"g":"NoDiff"},{"x":0.55,"y":0.34,"v":0.6,"g":"NoDiff"},
          {"x":-0.4,"y":0.42,"v":0.6,"g":"NoDiff"},{"x":-0.2,"y":0.42,"v":0.6,"g":"NoDiff"},{"x":0.0,"y":0.42,"v":0.6,"g":"NoDiff"},{"x":0.2,"y":0.42,"v":0.6,"g":"NoDiff"},{"x":0.4,"y":0.42,"v":0.6,"g":"NoDiff"},
          {"x":-0.35,"y":0.5,"v":0.6,"g":"NoDiff"},{"x":-0.15,"y":0.5,"v":0.6,"g":"NoDiff"},{"x":0.05,"y":0.5,"v":0.6,"g":"NoDiff"},{"x":0.25,"y":0.5,"v":0.6,"g":"NoDiff"},{"x":0.45,"y":0.5,"v":0.6,"g":"NoDiff"},
          {"x":-0.4,"y":0.58,"v":0.6,"g":"NoDiff"},{"x":-0.2,"y":0.58,"v":0.6,"g":"NoDiff"},{"x":0.0,"y":0.58,"v":0.6,"g":"NoDiff"},{"x":0.2,"y":0.58,"v":0.6,"g":"NoDiff"},{"x":0.4,"y":0.58,"v":0.6,"g":"NoDiff"},
          {"x":-0.35,"y":0.66,"v":0.6,"g":"NoDiff"},{"x":-0.2,"y":0.66,"v":0.6,"g":"NoDiff"},{"x":0.2,"y":0.66,"v":0.6,"g":"NoDiff"},{"x":0.4,"y":0.66,"v":0.6,"g":"NoDiff"},
          {"x":-0.4,"y":0.74,"v":0.6,"g":"NoDiff"},{"x":-0.25,"y":0.74,"v":0.6,"g":"NoDiff"},{"x":0.25,"y":0.74,"v":0.6,"g":"NoDiff"},{"x":0.4,"y":0.74,"v":0.6,"g":"NoDiff"},
          {"x":-0.4,"y":0.9,"v":0.6,"g":"NoDiff"},{"x":0.35,"y":0.9,"v":0.6,"g":"NoDiff"},{"x":-0.35,"y":0.98,"v":0.6,"g":"NoDiff"},{"x":0.4,"y":0.98,"v":0.6,"g":"NoDiff"},
          {"x":1.80,"y":2.21,"v":1.3,"g":"UP"},{"x":0.81,"y":1.79,"v":1.2,"g":"UP"},{"x":0.30,"y":1.62,"v":1.2,"g":"UP"},{"x":1.0,"y":1.59,"v":1.2,"g":"UP"},{"x":1.21,"y":1.53,"v":1.2,"g":"UP"},
          {"x":-0.64,"y":2.16,"v":1.3,"g":"DW"},{"x":-0.73,"y":2.09,"v":1.3,"g":"DW"},{"x":-1.14,"y":1.63,"v":1.2,"g":"DW"},{"x":-0.66,"y":1.66,"v":1.2,"g":"DW"},{"x":-0.28,"y":1.67,"v":1.2,"g":"DW"},{"x":-0.27,"y":1.57,"v":1.2,"g":"DW"},{"x":-1.78,"y":1.49,"v":1.2,"g":"DW"},{"x":-1.14,"y":1.45,"v":1.2,"g":"DW"},{"x":-0.9,"y":1.33,"v":1.2,"g":"DW"},{"x":-0.78,"y":1.32,"v":1.2,"g":"DW"}]},
         "mark": {"type": "point", "filled": true, "opacity": 0.7},
         "encoding": {
           "x": {"field": "x", "type": "quantitative", "scale": {"domain": [-4.5, 4.39], "nice": false, "zero": false}},
           "y": {"field": "y", "type": "quantitative", "scale": {"domain": [-0.101, 2.313], "nice": false, "zero": false}},
           "color": {"field": "g", "type": "nominal", "scale": {"domain": ["UP", "DW", "NoDiff"], "range": ["#E8461A", "#5CB51F", "#BEBEBE"]},
                     "legend": {"title": "DE_Meta", "orient": "none", "legendX": 328, "legendY": 207, "titleFontSize": 18, "titleColor": "#111", "titlePadding": 8, "labelFontSize": 16, "labelColor": "#222", "symbolType": "M 0.27 0 C 0.27 0.149 0.149 0.27 0 0.27 C -0.149 0.27 -0.27 0.149 -0.27 0 C -0.27 -0.149 -0.149 -0.27 0 -0.27 C 0.149 -0.27 0.27 -0.149 0.27 0 Z", "symbolSize": 900, "symbolOpacity": 1, "symbolStrokeWidth": 0, "symbolOffset": 2, "labelOffset": 6, "rowPadding": 6}},
           "size": {"field": "v", "type": "quantitative", "scale": {"domain": [0.5, 2.0], "range": [154, 426], "zero": false},
                    "legend": {"title": "VIP", "orient": "none", "legendX": 328, "legendY": 22, "values": [0.5, 1.0, 1.5, 2.0], "format": ".1f", "titleFontSize": 18, "titleColor": "#111", "titlePadding": 15, "labelFontSize": 16, "labelColor": "#222", "symbolFillColor": "black", "symbolOpacity": 1, "symbolStrokeWidth": 0, "symbolOffset": 10, "labelOffset": 10, "rowPadding": 12}}}},
        {"data": {"values": [{"x": -1.95, "y": 1.59, "x2": -1.03, "y2": 1.45}]},
         "mark": {"type": "rule", "color": "black", "strokeWidth": 2.5},
         "encoding": {
           "x": {"field": "x", "type": "quantitative", "scale": {"domain": [-4.5, 4.39], "nice": false, "zero": false}},
           "y": {"field": "y", "type": "quantitative", "scale": {"domain": [-0.101, 2.313], "nice": false, "zero": false}},
           "x2": {"field": "x2"}, "y2": {"field": "y2"}}},
        {"data": {"values": [{"x": -4.22, "y": 1.67, "t": "oleoyl-LPA"}]},
         "mark": {"type": "text", "fontSize": 24, "align": "left", "baseline": "alphabetic", "color": "black"},
         "encoding": {
           "x": {"field": "x", "type": "quantitative", "scale": {"domain": [-4.5, 4.39], "nice": false, "zero": false}},
           "y": {"field": "y", "type": "quantitative", "scale": {"domain": [-0.101, 2.313], "nice": false, "zero": false}},
           "text": {"field": "t"}}}
      ]
    }
    ]
  },
  {
    "width": 374, "height": 652,
    "title": {"text": "F", "dx": -322, "offset": 21},
    "data": {"values": [
      {"name":"L-Glutathione oxidized","lfc":1.789,"vip":2.19,"dir":"up"},
      {"name":"ADBICA N-pentanoic acid metabolite","lfc":1.188,"vip":1.80,"dir":"up"},
      {"name":"1-{[5-(4-chlorophenyl)-4H-1,2,4-triazol-3-yl]thio}acetone","lfc":0.97,"vip":1.94,"dir":"up"},
      {"name":"2,3-Dinor prostaglandin E1","lfc":0.843,"vip":1.98,"dir":"up"},
      {"name":"13,14-dihydro-15-keto-tetranor Prostaglandin F1","lfc":0.289,"vip":2.05,"dir":"up"},
      {"name":"Arachidonic acid","lfc":-0.273,"vip":1.86,"dir":"down"},
      {"name":"N-(5-cyclopropyl-1,3,4-thiadiazol-|2-yl)-2-thiophenecarboxamide","lfc":-0.31,"vip":1.88,"dir":"down"},
      {"name":"D-Sedoheptulose 7-phosphate","lfc":-0.643,"vip":2.15,"dir":"down"},
      {"name":"N-Acetyl-DL-phenylalanine","lfc":-0.666,"vip":1.90,"dir":"down"},
      {"name":"Lysops 22:6","lfc":-0.707,"vip":1.98,"dir":"down"},
      {"name":"Lysops 22:5","lfc":-0.754,"vip":1.77,"dir":"down"},
      {"name":"Thymidine","lfc":-0.911,"vip":1.72,"dir":"down"},
      {"name":"Citric acid","lfc":-1.141,"vip":1.82,"dir":"down"},
      {"name":"Indole-3-acrylic acid","lfc":-1.15,"vip":1.94,"dir":"down"},
      {"name":"Oleoyl-L-α-lysophosphatidic acid","lfc":-1.763,"vip":1.80,"dir":"down"}]},
    "resolve": {"scale": {"size": "independent"}, "legend": {"size": "independent"}},
    "layer": [
      {"mark": {"type": "point", "filled": true, "opacity": 0, "color": "black"},
       "encoding": {
         "y": {"field": "name", "type": "nominal", "sort": null, "scale": {"type": "point", "padding": 0.6},
               "axis": {"title": null, "labelFontSize": 12, "labelColor": {"condition": {"test": "indexof(datum.value, 'Oleoyl') >= 0", "value": "#E41A1C"}, "value": "#4d4d4d"}, "labelFontWeight": {"condition": {"test": "indexof(datum.value, 'Oleoyl') >= 0", "value": "bold"}, "value": "normal"}, "labelExpr": "split(datum.value, '|')", "labelLineHeight": 14, "labelLimit": 400, "tickSize": 3, "tickColor": "#333", "domainColor": "#333", "labelPadding": 2}},
         "x": {"field": "lfc", "type": "quantitative", "scale": {"domain": [-1.948, 1.969], "nice": false, "zero": false},
               "axis": {"title": "log2(Fold Change)", "values": [-1, 0, 1], "format": "d", "labelFontSize": 6.5, "labelColor": "#555", "tickSize": 3, "tickColor": "#333", "domainColor": "#333", "titleFontSize": 17, "titleColor": "#111", "titlePadding": 4}},
         "color": {"field": "dir", "type": "nominal", "scale": {"domain": ["up", "down"], "range": ["#E41A1C", "#34489B"]},
                   "legend": {"title": null, "orient": "none", "legendX": 271, "legendY": 342, "symbolType": "M -0.1 -1 L 0.1 -1 L 0.1 1 L -0.1 1 Z M 0.28 0 C 0.28 0.155 0.155 0.28 0 0.28 C -0.155 0.28 -0.28 0.155 -0.28 0 C -0.28 -0.155 -0.155 -0.28 0 -0.28 C 0.155 -0.28 0.28 -0.155 0.28 0 Z", "symbolSize": 900, "symbolOpacity": 1, "symbolStrokeWidth": 0, "labelFontSize": 19, "labelColor": "#222", "labelOffset": 17, "rowPadding": 7}},
         "size": {"field": "vip", "type": "quantitative", "scale": {"domain": [1.8, 2.2], "range": [133, 491], "zero": false, "clamp": true},
                  "legend": {"title": "VIP", "orient": "none", "legendX": 282, "legendY": 433, "values": [1.8, 1.9, 2.0, 2.1, 2.2], "format": ".1f", "titleFontSize": 25, "titleColor": "#111", "titlePadding": 18, "labelFontSize": 18, "labelColor": "#222", "symbolFillColor": "black", "symbolOpacity": 1, "symbolStrokeWidth": 0, "symbolOffset": 2.5, "labelOffset": 17, "rowPadding": 15}}}},
      {"mark": {"type": "rule", "strokeWidth": 2},
       "encoding": {
         "y": {"field": "name", "type": "nominal", "sort": null, "scale": {"type": "point", "padding": 0.6}},
         "x": {"field": "lfc", "type": "quantitative", "scale": {"domain": [-1.948, 1.969], "nice": false, "zero": false}},
         "x2": {"datum": 0},
         "color": {"field": "dir", "type": "nominal", "scale": {"domain": ["up", "down"], "range": ["#E41A1C", "#34489B"]}, "legend": null}}},
      {"mark": {"type": "point", "filled": true, "opacity": 1},
       "encoding": {
         "y": {"field": "name", "type": "nominal", "sort": null, "scale": {"type": "point", "padding": 0.6}},
         "x": {"field": "lfc", "type": "quantitative", "scale": {"domain": [-1.948, 1.969], "nice": false, "zero": false}},
         "color": {"field": "dir", "type": "nominal", "scale": {"domain": ["up", "down"], "range": ["#E41A1C", "#34489B"]}, "legend": null},
         "size": {"field": "vip", "type": "quantitative", "scale": {"domain": [1.7, 2.2], "range": [4, 110], "zero": false}, "legend": null}}}
    ]
  }
  ]
}
]
}
